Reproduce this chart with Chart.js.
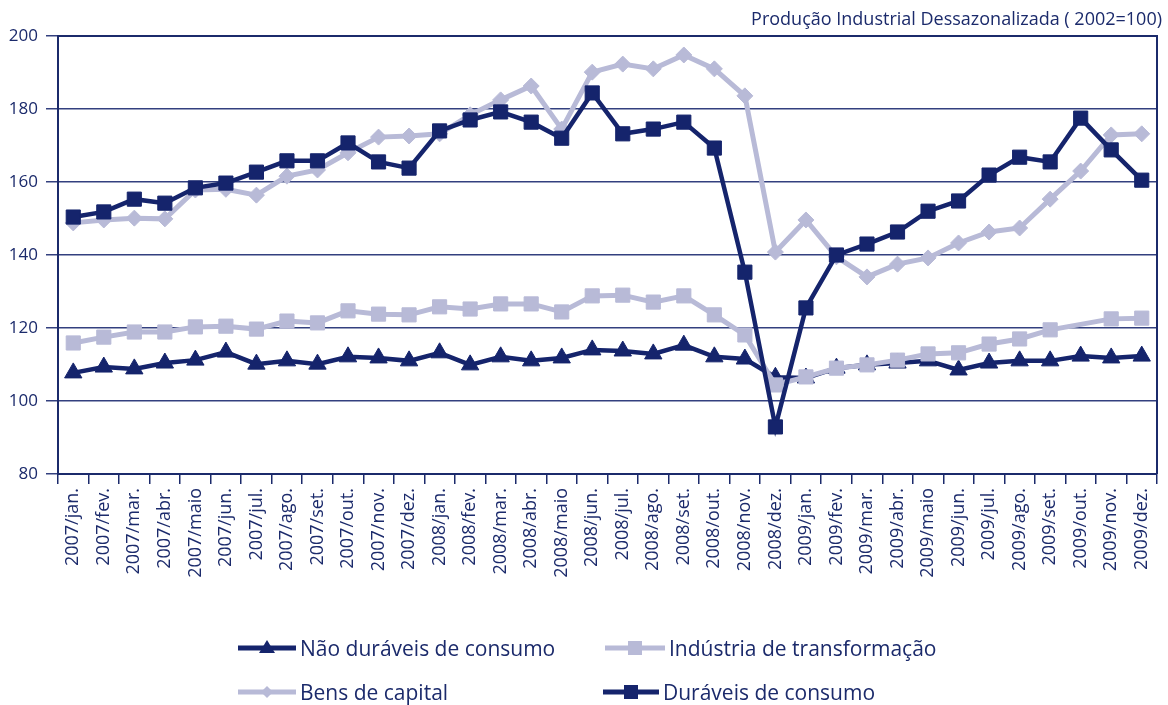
<!DOCTYPE html>
<html><head><meta charset="utf-8">
<script src="https://cdn.jsdelivr.net/npm/chart.js@4.4.0/dist/chart.umd.min.js"></script>
<style>
html,body{margin:0;padding:0;background:#fff;}
#wrap{position:relative;width:1168px;height:705px;font-family:'Open Sans',sans-serif;color:#1b2a6b;overflow:hidden;}
#c{position:absolute;left:0;top:0;}
#title{position:absolute;right:6px;top:7px;font-size:18px;line-height:22px;white-space:nowrap;}
.leg{position:absolute;display:flex;align-items:center;font-size:21px;line-height:24px;white-space:nowrap;}
.leg svg{display:block;margin-right:4px;}
</style></head>
<body><div id="wrap"><canvas id="c" width="1168" height="705"></canvas><div id="title">Produção Industrial Dessazonalizada ( 2002=100)</div></div>
<script>
const labels = ['2007/jan.','2007/fev.','2007/mar.','2007/abr.','2007/maio','2007/jun.','2007/jul.','2007/ago.','2007/set.','2007/out.','2007/nov.','2007/dez.',
'2008/jan.','2008/fev.','2008/mar.','2008/abr.','2008/maio','2008/jun.','2008/jul.','2008/ago.','2008/set.','2008/out.','2008/nov.','2008/dez.',
'2009/jan.','2009/fev.','2009/mar.','2009/abr.','2009/maio','2009/jun.','2009/jul.','2009/ago.','2009/set.','2009/out.','2009/nov.','2009/dez.'];
const seriesNames = ['Não duráveis de consumo','Indústria de transformação','Bens de capital','Duráveis de consumo'];
const naoDuraveis = [107.7,109.3,108.8,110.4,111.2,113.4,110.1,111.0,110.1,112.1,111.8,111.0,
113.2,109.9,112.1,111.0,111.8,114.0,113.7,112.9,115.3,112.1,111.5,106.5,
106.3,109.0,109.9,110.4,111.0,108.5,110.4,111.0,111.0,112.3,111.8,112.3];
const industria = [115.9,117.5,118.9,118.9,120.3,120.5,119.7,121.9,121.4,124.7,123.8,123.6,
125.8,125.2,126.6,126.6,124.4,128.8,129.0,127.1,128.8,123.6,118.1,104.4,
106.6,109.0,109.9,111.2,112.9,113.2,115.6,117.0,119.5,121.0,122.5,122.7];
const bensCapital = [148.8,149.6,150.1,149.9,157.8,158.0,156.4,161.6,163.3,168.0,172.3,172.6,
173.2,178.4,182.5,186.3,174.5,190.1,192.3,191.0,194.8,191.0,183.6,140.8,
149.6,139.5,134.0,137.5,139.2,143.3,146.3,147.4,155.3,163.0,172.9,173.2];
const duraveis = [150.4,151.8,155.3,154.2,158.4,159.7,162.7,165.8,165.8,170.7,165.5,163.8,
174.0,177.0,179.2,176.4,172.0,184.4,173.2,174.5,176.4,169.3,135.3,92.9,
125.5,140.0,143.0,146.3,152.0,154.8,161.9,166.8,165.5,177.5,168.8,160.5];
const yTicks = {min:80, max:200, step:20};

const DARK = '#15246c', LIGHT = '#b8bad7', TEXT = '#1b2a6b';
const FONT = "'Open Sans', sans-serif";

const borderPlugin = {
  id:'frame',
  afterDraw(chart){
    const {ctx, chartArea:a} = chart;
    ctx.save();
    ctx.strokeStyle = TEXT; ctx.lineWidth = 2;
    ctx.beginPath();
    ctx.moveTo(a.left, a.top); ctx.lineTo(a.right, a.top); ctx.lineTo(a.right, a.bottom);
    ctx.stroke();
    ctx.restore();
  }
};

const ds = (i, data, color, style, radius, order, width) => ({
  label: seriesNames[i], data, borderColor: color, backgroundColor: color,
  pointBackgroundColor: color, pointBorderColor: color, pointBorderWidth: 1,
  pointStyle: style, pointRadius: radius, pointHoverRadius: radius,
  borderWidth: width, order, tension: 0, fill: false
});

const chart = new Chart(document.getElementById('c'), {
  type: 'line',
  data: {
    labels,
    datasets: [
      ds(0, naoDuraveis, DARK, 'triangle', 10, 3, 4.5),
      ds(1, industria, LIGHT, 'rect', c => (c.dataIndex === 33 ? 0 : 10), 2, 5),
      ds(2, bensCapital, LIGHT, 'rectRot', 8, 1, 5),
      ds(3, duraveis, DARK, 'rect', 10, 0, 4.5)
    ]
  },
  options: {
    responsive: false, animation: false, devicePixelRatio: 1,
    layout: {padding: {left: 0, right: 6, top: 36, bottom: 91}},
    plugins: {legend: {display: false}, tooltip: {enabled: false}},
    scales: {
      x: {
        offset: true,
        grid: {offset: true, drawOnChartArea: false, drawTicks: true, tickLength: 10, color: TEXT, lineWidth: 1.5},
        border: {color: TEXT, width: 2},
        ticks: {minRotation: 90, maxRotation: 90, autoSkip: false, color: TEXT, font: {family: FONT, size: 18}, padding: 4},
        afterFit: s => { s.height = 140; }
      },
      y: {
        min: yTicks.min, max: yTicks.max,
        ticks: {stepSize: yTicks.step, color: TEXT, font: {family: FONT, size: 17}, padding: 8},
        grid: {color: '#33407f', lineWidth: 1.5, tickLength: 12},
        border: {color: TEXT, width: 2},
        afterFit: s => { s.width = 58; }
      }
    }
  },
  plugins: [borderPlugin]
});

// HTML legend built from the chart's datasets
const legendPos = [
  {ds:0, left:238, top:636, lw:58},
  {ds:1, left:605, top:636, lw:60},
  {ds:2, left:238, top:680, lw:58},
  {ds:3, left:603, top:680, lw:56}
];
const wrap = document.getElementById('wrap');
legendPos.forEach(p => {
  const d = chart.data.datasets[p.ds];
  const c = d.borderColor, cx = p.lw/2, cy = 12;
  let mark = '';
  if (d.pointStyle === 'triangle') mark = `<polygon points="${cx},${cy-8} ${cx+8},${cy+5} ${cx-8},${cy+5}" fill="${c}"/>`;
  else if (d.pointStyle === 'rect') mark = `<rect x="${cx-7}" y="${cy-7}" width="14" height="14" fill="${c}"/>`;
  else mark = `<polygon points="${cx},${cy-6} ${cx+6},${cy} ${cx},${cy+6} ${cx-6},${cy}" fill="${c}"/>`;
  const el = document.createElement('div');
  el.className = 'leg';
  el.style.left = p.left + 'px'; el.style.top = p.top + 'px';
  el.innerHTML = `<svg width="${p.lw}" height="24"><line x1="0" y1="${cy}" x2="${p.lw}" y2="${cy}" stroke="${c}" stroke-width="5"/>${mark}</svg><span>${d.label}</span>`;
  wrap.appendChild(el);
});
</script></body></html>
